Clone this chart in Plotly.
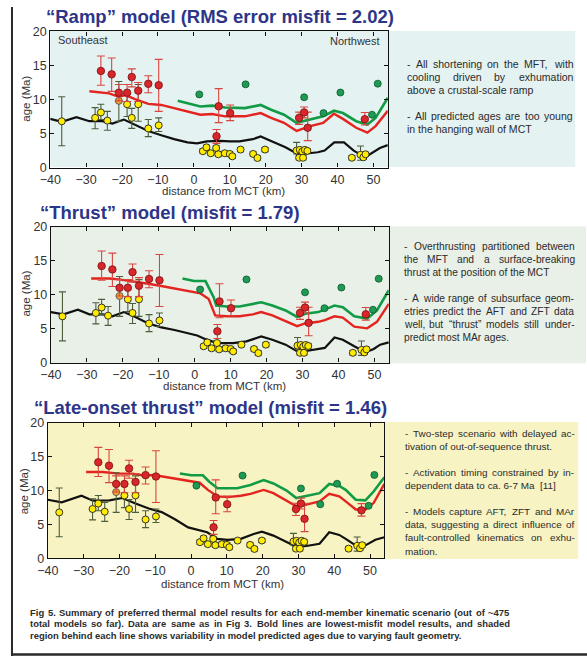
import plotly.graph_objects as go

W, H = 587, 663

# ---------------- observed cooling ages (same in every panel) ----------------
# zircon fission track (red)
zft_km = [-25.9, -22.9, -20.9, -18.6, -17.3, -15.5, -12.7, -9.8, 6.3, 6.9, 10.1, 29.3, 30.7, 31.7, 47.6]
zft_age = [14.2, 13.7, 11.0, 11.0, 13.3, 11.3, 12.3, 12.1, 4.6, 9.0, 8.0, 7.3, 8.1, 5.85, 7.1]
zft_err_hi = [2.2, 2.4, 1.2, 1.2, 1.2, 1.2, 1.2, 3.8, 1.0, 2.6, 1.2, 0.85, 0.8, 2.3, 1.0]
zft_err_lo = [2.1, 2.5, 1.2, 1.3, 1.45, 1.6, 1.3, 3.85, 1.05, 2.4, 1.1, 0.95, 0.8, 1.9, 0.85]

# muscovite Ar-Ar (green)
mar_km = [1.5, 14.4, 30.7, 36.1, 40.8, 49.6, 51.2]
mar_age = [10.75, 12.23, 10.33, 8.0, 11.03, 7.77, 12.33]
mar_err = [0.25, 0.25, 0.25, 0.25, 0.25, 0.25, 0.25]

# apatite fission track (yellow)
aft_km = [-36.8, -27.5, -25.9, -24.1, -18.6, -17.3, -15.5, -12.7, -9.8,
          2.5, 3.5, 4.7, 6.2, 6.8, 8.6, 10.0, 10.7, 13.0, 16.5, 17.7, 19.8,
          28.6, 29.3, 29.5, 30.2, 30.4, 30.9, 31.6, 44.0, 46.4, 47.2, 47.8]
aft_age = [6.8, 7.3, 8.1, 6.9, 9.3, 7.3, 9.3, 5.75, 6.2,
           2.4, 2.97, 2.1, 2.88, 1.95, 2.1, 2.0, 1.65, 2.64, 2.0, 1.4, 2.64,
           2.5, 1.44, 2.6, 2.35, 1.44, 2.6, 2.45, 1.44, 1.87, 1.5, 1.95]
aft_err_hi = [3.6, 1.5, 1.2, 1.35, 1.44, 1.4, 2.9, 1.3, 1.1,
              0.3, 0.3, 0.3, 0.3, 0.3, 0.3, 0.3, 0.3, 0.3, 0.3, 0.3, 0.3,
              1.2, 0.3, 0.3, 0.3, 0.3, 0.3, 0.3, 0.3, 1.3, 0.3, 0.3]
aft_err_lo = [3.6, 1.6, 1.05, 1.43, 1.8, 1.55, 2.5, 1.2, 0.9,
              0.3, 0.3, 0.3, 0.3, 0.3, 0.3, 0.3, 0.3, 0.3, 0.3, 0.3, 0.3,
              0.5, 0.3, 0.3, 0.3, 0.3, 0.3, 0.3, 0.3, 0.8, 0.3, 0.3]
# single orange apatite sample
aft2_km = [-20.9]
aft2_age = [9.8]
aft2_err_hi = [2.85]
aft2_err_lo = [3.0]

x_ticks = [-40, -30, -20, -10, 0, 10, 20, 30, 40, 50]
y_ticks = [0, 5, 10, 15, 20]

# ---------------- best-fit model predictions ----------------
# Ramp model
ramp_aft_km = [-40, -36.8, -32.7, -29.1, -25.5, -22.7, -19.5, -16.4, -12.7, -9.1, -5.5, -1.8, 0.9, 3.6,
               7.3, 10.0, 12.7, 16.4, 18.6, 21.8, 25.5, 29.1, 30.9, 34.5, 36.4, 39.1, 41.8, 44.5,
               47.7, 50.0, 51.8, 54.0]
ramp_aft = [7.15, 6.71, 7.39, 6.81, 6.81, 6.47, 7.05, 6.24, 5.37, 4.75, 4.17, 3.69, 3.55, 3.84,
            3.93, 3.84, 3.84, 4.17, 4.56, 3.84, 2.97, 1.92, 2.01, 2.25, 2.49, 3.69, 3.69, 2.49,
            1.53, 2.25, 2.88, 3.3]
ramp_zft_km = [-29.1, -26.4, -23.6, -20.9, -19.1, -16.4, -12.7, -9.1, -5.5, -1.8, 1.8, 5.1, 8.7,
               14.2, 18.6, 21.5, 25.1, 28.6, 32.4, 36.0, 39.0, 41.5, 45.2, 48.3, 50.6, 54.0]
ramp_zft = [11.22, 11.03, 10.9, 10.4, 10.65, 10.07, 9.35, 9.2, 8.73, 8.25, 7.77, 7.87, 7.53,
            7.53, 8.0, 7.29, 6.57, 5.37, 6.09, 6.57, 7.91, 7.15, 5.85, 5.13, 6.09, 8.35]
ramp_mar_km = [-4.5, -1.8, 1.8, 5.1, 8.7, 14.2, 18.6, 21.5, 25.1, 28.6, 32.4, 36.0, 39.0, 41.5,
               45.2, 48.3, 50.6, 54.0]
ramp_mar = [9.83, 9.45, 8.97, 9.1, 8.82, 8.73, 9.2, 8.49, 7.77, 6.57, 7.05, 7.53, 8.35, 8.01,
            6.81, 6.33, 7.29, 10.26]

# Thrust model
thrust_aft_km = [-40, -36.5, -32.5, -29.3, -25.6, -22.9, -19.7, -16.5, -12.9, -9.3, -5.6, -2.0, 0.7,
                 3.0, 4.8, 7.1, 10.7, 14.4, 18.5, 21.6, 25.3, 28.9, 30.7, 34.4, 36.2, 38.9, 41.2,
                 44.4, 47.5, 49.8, 51.6, 54.0]
thrust_aft = [7.43, 7.1, 7.77, 7.1, 7.1, 6.81, 7.43, 6.71, 5.76, 5.18, 4.8, 4.32, 3.98,
              3.45, 3.12, 2.88, 2.88, 3.12, 3.84, 3.36, 2.64, 1.53, 1.68, 1.92, 2.16, 3.69, 3.36,
              2.4, 1.53, 2.01, 2.64, 2.97]
thrust_zft_km = [-28.8, -23.8, -21.1, -17.5, -12.9, -9.3, -5.6, -2.0, 1.6, 3.9, 5.7, 8.9, 12.5,
                 16.2, 18.5, 21.6, 25.3, 28.5, 30.7, 34.4, 36.2, 38.9, 41.2, 44.4, 48.0, 50.7, 54.0]
thrust_zft = [12.37, 12.37, 12.23, 11.99, 11.6, 11.27, 10.89, 10.46, 10.17, 9.35, 6.95, 6.81, 6.81,
              7.1, 7.43, 6.95, 6.14, 5.37, 5.76, 6.0, 6.24, 6.81, 6.62, 5.28, 5.04, 6.0, 8.63]
thrust_mar_km = [-3.4, -0.2, 3.0, 5.3, 6.0, 8.9, 12.5, 16.2, 18.5, 21.6, 25.3, 28.5, 30.7, 34.4,
                 36.2, 38.9, 41.2, 44.4, 48.0, 50.7, 54.0]
thrust_mar = [12.37, 11.99, 11.99, 9.59, 8.39, 8.25, 8.25, 8.63, 8.87, 8.39, 7.67, 6.71, 7.19, 7.43,
              7.82, 8.39, 8.15, 6.81, 6.47, 7.67, 10.65]

# Late-onset thrust model
late_aft_km = [-40, -36.1, -30.6, -27.4, -22.8, -19.2, -15.5, -11.8, -8.2, -4.5, -0.8, 2.4, 4.5,
               7.4, 10.2, 13.9, 17.5, 19.8, 23.0, 26.7, 29.4, 32.2, 35.9, 38.6, 41.4, 43.2, 46.9,
               48.7, 51.5, 54.0]
late_aft = [8.67, 8.29, 9.25, 8.53, 8.58, 8.92, 8.1, 7.37, 6.84, 5.78, 4.58, 4.19, 3.86,
            2.89, 2.75, 2.89, 3.61, 3.95, 3.37, 2.41, 1.69, 1.83, 2.17, 3.86, 3.47, 2.89, 1.59,
            1.93, 2.75, 3.13]
late_zft_km = [-29.3, -24.7, -20.1, -16.4, -13.7, -10.0, -6.3, -2.7, -0.4, 2.4, 4.7, 7.4, 10.2,
               13.9, 16.6, 20.3, 23.0, 26.7, 29.4, 32.2, 35.9, 38.6, 41.4, 43.2, 46.0, 48.7, 51.0, 54.0]
late_zft = [12.77, 12.77, 12.53, 12.53, 12.29, 12.29, 11.95, 11.66, 11.42, 11.18, 10.12, 9.16, 9.06,
            9.25, 9.54, 10.12, 9.64, 8.58, 7.71, 7.95, 8.43, 9.54, 9.16, 8.43, 7.23, 7.23, 8.19, 11.0]
late_mar_km = [-3.1, 0.1, 3.3, 5.1, 7.4, 10.2, 12.9, 16.6, 20.3, 23.0, 26.7, 29.4, 32.2, 35.9,
               38.6, 41.4, 43.2, 46.0, 48.7, 51.0, 54.0]
late_mar = [12.53, 12.29, 12.29, 11.33, 10.36, 10.36, 10.36, 10.84, 11.57, 11.08, 10.02, 8.92, 9.25,
            9.64, 10.99, 10.7, 10.12, 8.67, 8.58, 9.88, 12.0]

# ---------------- text ----------------
titles = ["“Ramp” model (RMS error misfit = 2.02)",
          "“Thrust” model (misfit = 1.79)",
          "“Late-onset thrust” model (misfit = 1.46)"]

notes = [
    [("- All shortening on the MFT, with", True),
     ("cooling driven by exhumation", True),
     ("above a crustal-scale ramp", False),
     None,
     ("- All predicted ages are too young", True),
     ("in the hanging wall of MCT", False)],
    [("- Overthrusting partitioned between", True),
     ("the MFT and a surface-breaking", True),
     ("thrust at the position of the MCT", False),
     None,
     ("- A wide range of subsurface geom-", True),
     ("etries predict the AFT and ZFT data", True),
     ("well, but “thrust” models still under-", True),
     ("predict most MAr ages.", False)],
    [("- Two-step scenario with delayed ac-", True),
     ("tivation of out-of-sequence thrust.", False),
     None,
     ("- Activation timing constrained by in-", True),
     ("dependent data to ca. 6-7 Ma\u00a0\u00a0[11]", False),
     None,
     ("- Models capture AFT, ZFT and MAr", True),
     ("data, suggesting a direct influence of", True),
     ("fault-controlled kinematics on exhu-", True),
     ("mation.", False)],
]

caption = [
    ("Fig 5. Summary of preferred thermal model results for each end-member kinematic scenario (out of ~475", True),
    ("total models so far). Data are same as in Fig 3. Bold lines are lowest-misfit model results, and shaded", True),
    ("region behind each line shows variability in model predicted ages due to varying fault geometry.", False),
]

# ---------------- layout geometry (pixels) ----------------
panels = [
    dict(plot=(40, 384, 25, 164), box=(40, 575, 24.5, 163.5), bg="#e4f2f2",
         title_xy=(35, 10.0), note_x=(402.3, 571), note_y0=58.3, ylab=(15, 94),
         xlab=(217, 187.5),
         model=(ramp_aft_km, ramp_aft, ramp_zft_km, ramp_zft, ramp_mar_km, ramp_mar)),
    dict(plot=(40.7, 385, 224.3, 363.3), box=(40.7, 586, 224, 364), bg="#e8f0e8",
         title_xy=(28.3, 209.5), note_x=(399, 572.3), note_y0=244.3, ylab=(15, 293),
         xlab=(218, 386.7),
         model=(thrust_aft_km, thrust_aft, thrust_zft_km, thrust_zft, thrust_mar_km, thrust_mar)),
    dict(plot=(37.5, 380.5, 425, 563.3), box=(37.5, 578, 424, 564), bg="#f7f3c3",
         title_xy=(22.7, 409.5), note_x=(400, 573), note_y0=435.6, ylab=(13, 495),
         xlab=(216, 589.5),
         model=(late_aft_km, late_aft, late_zft_km, late_zft, late_mar_km, late_mar)),
]
NOTE_DY = 13.35
FONT = "Liberation Sans, Arial, sans-serif"
TXT = "#2b2b2b"
TITLE_C = "#2d3587"


def px(x):
    return x / W


def py(y):
    return 1 - y / H


# Arial-compatible advance widths (1/1000 em) used to space justified words
def _table(upper, lower, extra):
    t = dict(zip("ABCDEFGHIJKLMNOPQRSTUVWXYZ", upper))
    t.update(zip("abcdefghijklmnopqrstuvwxyz", lower))
    t.update({d: 556 for d in "0123456789"})
    t.update(extra)
    return t


REG = _table([667, 667, 722, 722, 667, 611, 778, 722, 278, 500, 667, 556, 833, 722, 778, 667, 778, 722,
              667, 611, 722, 667, 944, 667, 667, 611],
             [556, 556, 500, 556, 556, 278, 556, 556, 222, 222, 500, 222, 833, 556, 556, 556, 556, 333,
              500, 278, 556, 500, 722, 500, 500, 500],
             {" ": 278, "(": 333, ")": 333, ",": 278, "-": 333, ".": 278, "~": 584, "=": 584,
              "“": 333, "”": 333, "[": 278, "]": 278, "\u00a0": 278})
BOLD = _table([722, 722, 722, 722, 667, 611, 778, 722, 278, 556, 722, 611, 833, 722, 778, 667, 778, 722,
               667, 611, 722, 667, 944, 667, 667, 611],
              [556, 611, 556, 611, 556, 333, 611, 611, 278, 278, 556, 278, 889, 611, 611, 611, 611, 389,
               556, 333, 611, 556, 778, 556, 556, 500],
              {" ": 278, "(": 333, ")": 333, ",": 278, "-": 333, ".": 278, "~": 584, "=": 584,
               "“": 500, "”": 500, "[": 333, "]": 333, "\u00a0": 278})


def text_w(s, size, bold):
    tab = BOLD if bold else REG
    return sum(tab.get(c, 556) for c in s) * size / 1000.0


def fit_size(lines, avail, base, bold, slack=1.07):
    """Largest size <= base at which every justified line fits with room between words."""
    size = base
    for item in lines:
        if item is None or not item[1]:
            continue
        need = text_w(item[0], 1.0, bold) * slack
        size = min(size, avail / need)
    return size


annotations = []


def add_text(text, x, y, size, color=TXT, bold=False, anchor="left", angle=0):
    s = f"<b>{text}</b>" if bold else text
    annotations.append(dict(text=s, x=px(x), y=py(y), xref="paper", yref="paper",
                            xanchor=anchor, yanchor="middle", showarrow=False,
                            textangle=angle, borderpad=0,
                            font=dict(family=FONT, size=size, color=color)))


def add_line(text, x0, x1, y, size, justify, bold=False):
    """One text line; justified lines are spread word by word across [x0, x1]."""
    if not justify:
        add_text(text, x0, y, size, bold=bold)
        return
    words = text.split(" ")
    widths = [text_w(w, size, bold) for w in words]
    gap = (x1 - x0 - sum(widths)) / (len(words) - 1)
    x = x0
    for i, w in enumerate(words):
        add_text(w, x, y, size, bold=bold)
        x += widths[i] + gap


fig = go.Figure()
shapes = []

ERR_RED = "#d9463f"
ERR_AFT = "#4d5e3c"

for k, p in enumerate(panels):
    n = "" if k == 0 else str(k + 1)
    xa, ya = "x" + n, "y" + n
    x0, x1, y0, y1 = p["plot"]
    bx0, bx1, by0, by1 = p["box"]
    shapes.append(dict(type="rect", xref="paper", yref="paper", x0=px(bx0), x1=px(bx1),
                       y0=py(by1), y1=py(by0), fillcolor=p["bg"], line=dict(width=0), layer="below"))

    axis_common = dict(showgrid=False, zeroline=False, showline=True, linecolor="#111", linewidth=1.3,
                       mirror="allticks", ticks="inside", ticklen=4, tickwidth=1, tickcolor="#111",
                       tickfont=dict(family=FONT, size=12.5, color="#333"))
    fig.layout["xaxis" + n] = dict(domain=[px(x0), px(x1)], range=[-40, 54], tickvals=x_ticks,
                                   anchor=ya, **axis_common)
    fig.layout["yaxis" + n] = dict(domain=[py(y1), py(y0)], range=[0, 20], tickvals=y_ticks,
                                   anchor=xa, **axis_common)

    akm, aage, zkm, zage, mkm, mage = p["model"]
    fig.add_trace(go.Scatter(x=akm, y=aage, mode="lines", line=dict(color="#111", width=2.2),
                             xaxis=xa, yaxis=ya, showlegend=False, hoverinfo="skip"))
    fig.add_trace(go.Scatter(x=zkm, y=zage, mode="lines", line=dict(color="#e3241f", width=2.4),
                             xaxis=xa, yaxis=ya, showlegend=False, hoverinfo="skip"))
    fig.add_trace(go.Scatter(x=mkm, y=mage, mode="lines", line=dict(color="#119b45", width=2.6),
                             xaxis=xa, yaxis=ya, showlegend=False, hoverinfo="skip"))

    # observations
    fig.add_trace(go.Scatter(x=aft_km, y=aft_age, mode="markers",
                             error_y=dict(type="data", array=aft_err_hi, arrayminus=aft_err_lo,
                                          color=ERR_AFT, thickness=1.1, width=3.5),
                             marker=dict(color="#ffec00", size=7, line=dict(color="#222", width=0.9)),
                             xaxis=xa, yaxis=ya, showlegend=False))
    fig.add_trace(go.Scatter(x=aft2_km, y=aft2_age, mode="markers",
                             error_y=dict(type="data", array=aft2_err_hi, arrayminus=aft2_err_lo,
                                          color=ERR_AFT, thickness=1.1, width=3.5),
                             marker=dict(color="#f2a12e", size=7, line=dict(color="#555", width=0.9)),
                             xaxis=xa, yaxis=ya, showlegend=False))
    fig.add_trace(go.Scatter(x=mar_km, y=mar_age, mode="markers",
                             error_y=dict(type="data", array=mar_err, color="#555", thickness=1, width=3),
                             marker=dict(color="#1f9a55", size=7, line=dict(color="#0d5a2c", width=0.8)),
                             xaxis=xa, yaxis=ya, showlegend=False))
    fig.add_trace(go.Scatter(x=zft_km, y=zft_age, mode="markers",
                             error_y=dict(type="data", array=zft_err_hi, arrayminus=zft_err_lo,
                                          color=ERR_RED, thickness=1.1, width=4),
                             marker=dict(color="#d8262b", size=7.5, line=dict(color="#7a1212", width=0.8)),
                             xaxis=xa, yaxis=ya, showlegend=False))

    # titles and axis labels
    tx, ty = p["title_xy"]
    add_text(titles[k], tx, ty, 18.5, color=TITLE_C, bold=True)
    add_text("age (Ma)", p["ylab"][0], p["ylab"][1], 11.5, color="#333", anchor="center", angle=-90)
    add_text("distance from MCT (km)", p["xlab"][0], p["xlab"][1], 11.5, color="#333", anchor="center")

    # notes beside the panel
    nx0, nx1 = p["note_x"]
    nsize = fit_size(notes[k], nx1 - nx0, 11, False)
    for j, item in enumerate(notes[k]):
        if item is None:
            continue
        add_line(item[0], nx0, nx1, p["note_y0"] + j * NOTE_DY, nsize, item[1])

add_text("Southeast", 46.5, 33.5, 11, color="#333")
add_text("Northwest", 377, 34.5, 11, color="#333", anchor="right")

csize = fit_size(caption, 506.5 - 18.3, 10, True, slack=1.04)
for j, (line, just) in enumerate(caption):
    add_line(line, 18.3, 506.5, 618.3 + j * 12.0, csize, just, bold=True)

# outer frame edges
shapes.append(dict(type="line", xref="paper", yref="paper", x0=px(1), x1=px(1), y0=0, y1=1,
                   line=dict(color="#2a2a2a", width=2)))
shapes.append(dict(type="line", xref="paper", yref="paper", x0=0, x1=1, y0=py(661.5), y1=py(661.5),
                   line=dict(color="#2a2a2a", width=2.5)))

fig.update_layout(width=W, height=H, autosize=False, margin=dict(l=0, r=0, t=0, b=0),
                  paper_bgcolor="white", plot_bgcolor="rgba(0,0,0,0)",
                  shapes=shapes, annotations=annotations, showlegend=False)

fig.write_html("out.html")
